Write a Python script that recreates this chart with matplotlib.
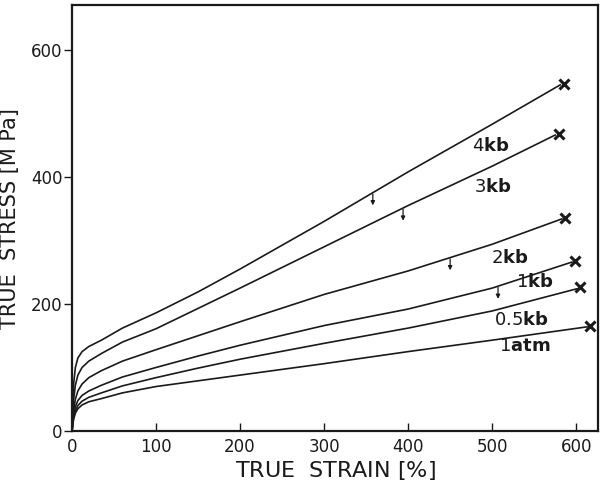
import numpy as np
import matplotlib
matplotlib.use("Agg")
from matplotlib import pyplot as plt

# stress-strain curves
labels = ["4kb", "3kb", "2kb", "1kb", "0.5kb", "1atm"]

strain = [0, 1, 2, 4, 7, 12, 20, 35, 60, 100, 150, 200, 300, 400, 500]

stress_4kb = [0, 45, 75, 100, 115, 125, 133, 143, 162, 186, 219, 255, 330, 408, 483]
stress_3kb = [0, 30, 50, 72, 88, 100, 110, 122, 140, 161, 193, 225, 290, 355, 417]
stress_2kb = [0, 18, 32, 50, 63, 74, 84, 95, 110, 128, 150, 172, 215, 252, 294]
stress_1kb = [0, 14, 26, 38, 48, 56, 63, 72, 85, 100, 118, 135, 166, 192, 225]
stress_05kb = [0, 12, 22, 32, 40, 47, 53, 60, 71, 84, 99, 113, 138, 162, 189]
stress_1atm = [0, 10, 19, 28, 35, 41, 46, 51, 60, 70, 79, 88, 106, 125, 143]

# fracture points (x marks)
end_strain = [581, 575, 583, 595, 601, 613]
end_stress = [545, 466, 334, 266, 224, 164]

# small arrows on some curves
arrow_strain = [358, 394, 450, 507]
arrow_curve = [0, 1, 2, 3]

all_stress = [stress_4kb, stress_3kb, stress_2kb, stress_1kb, stress_05kb, stress_1atm]

fig = plt.figure(figsize=(6.02, 4.99), dpi=100)
ax = fig.add_axes([0.1196, 0.1363, 0.8738, 0.8527])

ink = "#1a1a1a"
for i in range(len(labels)):
    xs = strain + [end_strain[i]]
    ys = all_stress[i] + [end_stress[i]]
    ax.plot(xs, ys, color=ink, lw=1.2)
    ax.plot(end_strain[i] + 4, end_stress[i] + 2, marker="x", ms=7, mew=2.2, color=ink)

for s, c in zip(arrow_strain, arrow_curve):
    xs = strain + [end_strain[c]]
    ys = all_stress[c] + [end_stress[c]]
    y0 = np.interp(s, xs, ys)
    ax.annotate("", xy=(s, y0 - 20), xytext=(s, y0 - 2),
                arrowprops=dict(arrowstyle="-|>", color=ink, lw=0.9,
                                mutation_scale=6, shrinkA=0, shrinkB=0))

# curve labels
lab_pos = [(498, 449), (501, 384), (521, 272), (551, 235), (535, 175), (539, 134)]
lab_num = ["4", "3", "2", "1", "0.5", "1"]
lab_unit = ["kb", "kb", "kb", "kb", "kb", "atm"]
for (x, y), n, u in zip(lab_pos, lab_num, lab_unit):
    ax.text(x, y, n + r"$\mathbf{" + u + "}$", ha="center", va="center",
            fontsize=13, color=ink)

ax.set_xlim(0, 626)
ax.set_ylim(0, 670)
ax.set_xticks([0, 100, 200, 300, 400, 500, 600])
ax.set_yticks([0, 200, 400, 600])
ax.tick_params(axis="x", direction="in", length=6, width=1, labelsize=12, pad=5, colors=ink)
ax.tick_params(axis="y", direction="out", length=6, width=1, labelsize=12, pad=1, colors=ink)
for sp in ax.spines.values():
    sp.set_linewidth(1.6)
    sp.set_color(ink)

ax.set_xlabel("TRUE  STRAIN $\\left[\\%\\right]$", fontsize=16, color=ink, labelpad=2)
ax.set_ylabel("TRUE  STRESS [M Pa]", fontsize=15, color=ink, labelpad=8)

fig.savefig("out.png", dpi=100)
